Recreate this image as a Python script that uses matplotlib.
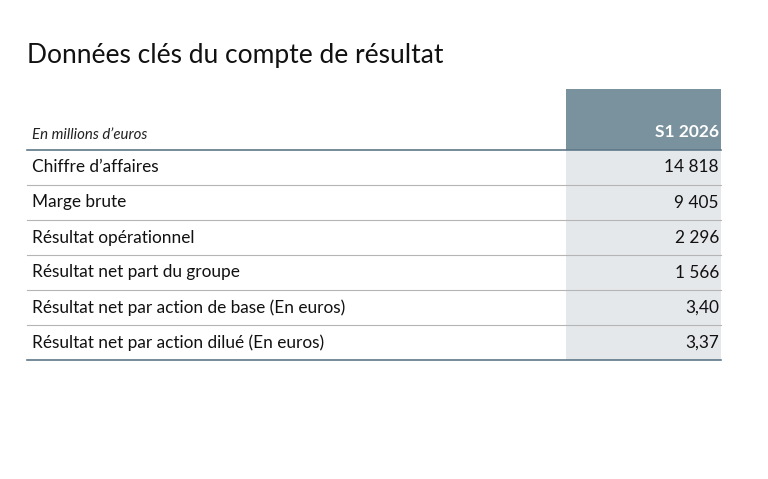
import matplotlib
matplotlib.use("Agg")
import matplotlib.pyplot as plt
from matplotlib.patches import Rectangle

title = "Données clés du compte de résultat"
unit_label = "En millions d’euros"
column_header = "S1 2026"
row_labels = ["Chiffre d’affaires", "Marge brute", "Résultat opérationnel",
              "Résultat net part du groupe",
              "Résultat net par action de base (En euros)",
              "Résultat net par action dilué (En euros)"]
values = ["14 818", "9 405", "2 296", "1 566", "3,40", "3,37"]

plt.rcParams['font.family'] = ['Lato', 'DejaVu Sans']
W, H = 768, 479
fig = plt.figure(figsize=(W/100, H/100), dpi=100)
ax = fig.add_axes([0, 0, 1, 1])
ax.set_xlim(0, W); ax.set_ylim(H, 0); ax.axis('off')

left, right = 27, 721
col_l = 566
head_top, head_bot = 89, 150
row_h = 35
n = len(row_labels)
bottom = head_bot + n * row_h

ax.text(left, 55, title, fontsize=19, va='center', ha='left', color='#111111')
ax.add_patch(Rectangle((col_l, head_top), right - col_l, head_bot - head_top,
                       facecolor='#7a929e', edgecolor='none'))
ax.add_patch(Rectangle((col_l, head_bot), right - col_l, bottom - head_bot,
                       facecolor='#e5e8eb', edgecolor='none'))
ax.text(left + 5, 135, unit_label, fontsize=10.8, style='italic', va='center', color='#222222')
ax.text(right - 2, 132, column_header, fontsize=12.5, fontweight='bold', color='white',
        ha='right', va='center')
ax.plot([left, right], [head_bot, head_bot], color='#5e7888', lw=1.2)
for i, (lab, v) in enumerate(zip(row_labels, values)):
    yc = head_bot + row_h * i + row_h / 2
    ax.text(left + 5, yc, lab, fontsize=12.4, va='center', ha='left', color='#111111')
    ax.text(right - 2, yc, v, fontsize=12.4, va='center', ha='right', color='#111111')
    yl = head_bot + row_h * (i + 1)
    if i < n - 1:
        ax.plot([left, right], [yl, yl], color='#b5b5b5', lw=0.8)
ax.plot([left, right], [bottom, bottom], color='#5e7888', lw=1.2)

fig.savefig("out.png", dpi=100)
